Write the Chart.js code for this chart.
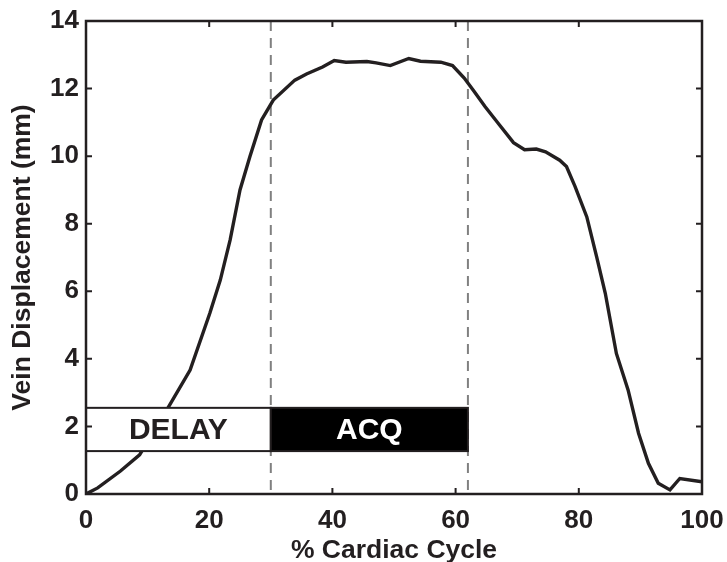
<!DOCTYPE html>
<html>
<head>
<meta charset="utf-8">
<script src="https://cdn.jsdelivr.net/npm/chart.js@4.4.1/dist/chart.umd.min.js"></script>
<style>
  html, body { margin: 0; padding: 0; background: #fff; }
  #wrap { width: 727px; height: 562px; }
</style>
</head>
<body>
<div id="wrap"><canvas id="myChart" width="727" height="562"></canvas></div>
<script>
// % of cardiac cycle vs vein displacement
let pct = [0, 1.9, 5.6, 8.7, 13.4, 16.9, 20.1, 21.8, 23.4, 25, 26.6, 28.5, 30.4, 33.9, 35.8, 38.4,
  40.3, 42.2, 45.6, 47.1, 49.4, 52.4, 54.3, 57.6, 59.5, 61.4, 62.9, 64.8, 67.1, 69.4,
  71.2, 73.1, 74.6, 76.9, 78, 79.4, 81.3, 82.9, 84.3, 86.1, 88, 89.7, 91.3, 92.9,
  94.8, 96.4, 100];
let disp = [0, 0.18, 0.68, 1.16, 2.58, 3.67, 5.35, 6.33, 7.52, 9.0, 9.98, 11.07, 11.66, 12.25, 12.43, 12.64,
  12.83, 12.78, 12.8, 12.76, 12.68, 12.89, 12.81, 12.78, 12.68, 12.31, 11.94, 11.46, 10.93, 10.4,
  10.19, 10.21, 10.13, 9.88, 9.69, 9.1, 8.2, 7.02, 5.94, 4.16, 3.08, 1.8, 0.91, 0.32,
  0.12, 0.46, 0.36];

let xTicks = [0, 20, 40, 60, 80, 100];
let yTicks = [0, 2, 4, 6, 8, 10, 12, 14];

// timing bars: start, end (% cycle) and vertical extent (mm)
let phaseNames = ['DELAY', 'ACQ'];
let phaseStart = [0, 30];
let phaseEnd = [30, 62];
let barRange = [1.27, 2.55];

let ink = '#231f20';
let fontFam = '"Liberation Sans", Arial, sans-serif';

let points = pct.map(function(p, i) { return {x: p, y: disp[i]}; });

// dashed markers + timing bars + boxed frame with inward ticks
let decor = {
  id: 'decor',
  beforeDatasetsDraw: function(chart) {
    let ctx = chart.ctx, a = chart.chartArea, xs = chart.scales.x;
    ctx.save();
    ctx.strokeStyle = '#808080';
    ctx.lineWidth = 2;
    ctx.setLineDash([10, 7]);
    [phaseEnd[0], phaseEnd[1]].forEach(function(v) {
      let px = xs.getPixelForValue(v);
      ctx.beginPath();
      ctx.moveTo(px, a.top);
      ctx.lineTo(px, a.bottom);
      ctx.stroke();
    });
    ctx.restore();
  },
  afterDatasetsDraw: function(chart) {
    let ctx = chart.ctx, a = chart.chartArea, xs = chart.scales.x, ys = chart.scales.y;
    ctx.save();
    let yTop = ys.getPixelForValue(barRange[1]);
    let yBot = ys.getPixelForValue(barRange[0]);
    phaseNames.forEach(function(name, i) {
      let x0 = xs.getPixelForValue(phaseStart[i]);
      let x1 = xs.getPixelForValue(phaseEnd[i]);
      ctx.fillStyle = i === 0 ? '#fff' : '#000';
      ctx.fillRect(x0, yTop, x1 - x0, yBot - yTop);
      ctx.strokeStyle = ink;
      ctx.lineWidth = 2;
      ctx.strokeRect(x0, yTop, x1 - x0, yBot - yTop);
      ctx.fillStyle = i === 0 ? ink : '#fff';
      ctx.font = 'bold 30px ' + fontFam;
      ctx.textAlign = 'center';
      ctx.textBaseline = 'middle';
      ctx.fillText(name, (x0 + x1) / 2, (yTop + yBot) / 2 + 1);
    });

    // frame
    ctx.strokeStyle = ink;
    ctx.lineWidth = 2.5;
    ctx.strokeRect(a.left, a.top, a.right - a.left, a.bottom - a.top);
    ctx.lineWidth = 2;
    let tl = 6;
    xTicks.forEach(function(v) {
      let px = xs.getPixelForValue(v);
      ctx.beginPath();
      ctx.moveTo(px, a.bottom); ctx.lineTo(px, a.bottom - tl);
      ctx.moveTo(px, a.top); ctx.lineTo(px, a.top + tl);
      ctx.stroke();
    });
    yTicks.forEach(function(v) {
      let py = ys.getPixelForValue(v);
      ctx.beginPath();
      ctx.moveTo(a.left, py); ctx.lineTo(a.left + tl, py);
      ctx.moveTo(a.right, py); ctx.lineTo(a.right - tl, py);
      ctx.stroke();
    });
    ctx.restore();
  }
};

let tickFont = {family: fontFam, size: 26, weight: 'bold'};
let titleFont = {family: fontFam, size: 26.5, weight: 'bold', lineHeight: 1};

const myChart = new Chart(document.getElementById('myChart'), {
  type: 'line',
  data: {
    datasets: [{
      data: points,
      borderColor: ink,
      borderWidth: 3.4,
      pointRadius: 0,
      tension: 0,
      fill: false
    }]
  },
  options: {
    responsive: false,
    animation: false,
    layout: { padding: { left: 0, top: 21, right: 25, bottom: 0 } },
    plugins: { legend: { display: false }, tooltip: { enabled: false } },
    scales: {
      x: {
        type: 'linear',
        min: 0, max: 100,
        afterBuildTicks: function(s) { s.ticks = xTicks.map(function(v) { return {value: v}; }); },
        afterFit: function(s) { s.height = 68; s.paddingLeft = 0; s.paddingRight = 0; },
        grid: { display: false, drawTicks: false },
        border: { display: false },
        ticks: { color: ink, font: tickFont, padding: 11, maxRotation: 0 },
        title: {
          display: true, text: '% Cardiac Cycle', color: ink,
          font: titleFont,
          padding: { top: 0, bottom: -2 }
        }
      },
      y: {
        type: 'linear',
        min: 0, max: 14,
        afterBuildTicks: function(s) { s.ticks = yTicks.map(function(v) { return {value: v}; }); },
        afterFit: function(s) { s.width = 86; s.paddingTop = 0; s.paddingBottom = 0; },
        grid: { display: false, drawTicks: false },
        border: { display: false },
        ticks: { color: ink, font: tickFont, padding: 7 },
        title: {
          display: true, text: 'Vein Displacement (mm)', color: ink,
          font: titleFont,
          padding: { top: 9, bottom: 0 }
        }
      }
    }
  },
  plugins: [decor]
});
</script>
</body>
</html>
